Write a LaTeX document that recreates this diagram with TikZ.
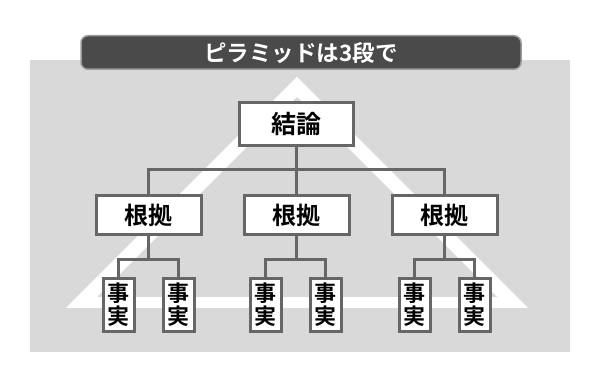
\documentclass[tikz,border=0pt]{standalone}
\usepackage{fontspec}
\setmainfont{Noto Sans CJK JP Bold}
\usetikzlibrary{shapes}
\definecolor{boxgray}{HTML}{666666}
\definecolor{bggray}{HTML}{D9D9D9}
\definecolor{titlegray}{HTML}{4A4A4A}
\definecolor{rimgray}{HTML}{9A9A9A}

\begin{document}
\begin{tikzpicture}[x=1pt, y=-1pt, node distance=91pt]
    % Define styles
    \tikzstyle{block} = [rectangle, draw=boxgray, fill=white, line width=3pt, inner sep=0pt, text centered, minimum width=105pt, minimum height=39pt, font=\fontsize{24}{24}\selectfont]
    \tikzstyle{fact} = [block, minimum width=31pt, minimum height=53pt, text width=31pt, font=\fontsize{22}{23}\selectfont]
    \tikzstyle{line} = [draw=boxgray, line width=3pt]

    % Background and pyramid
    \useasboundingbox (0,0) rectangle (600,379);
    \fill [white] (0,0) rectangle (600,379);
    \fill [bggray] (30,60) rectangle (570,352);
    \fill [white] (297,77) -- (66,308) -- (528,308) -- cycle;
    \fill [bggray] (297,97) -- (97,297) -- (497,297) -- cycle;

    % Title
    \node [draw=rimgray, line width=1.5pt, fill=titlegray, rounded corners=7pt, minimum width=440pt, minimum height=33.5pt, text=white, font=\fontsize{22.5}{22.5}\selectfont] (title) at (301,52.5) {ピラミッドは3段で};

    % Conclusion
    \node [block, minimum width=114pt, minimum height=43pt, font=\fontsize{25}{25}\selectfont] (concl) at (296.5,124) {結論};

    % Grounds
    \node [block, below of=concl] (ground2) {根拠};
    \node [block, left of=ground2, node distance=148pt] (ground1) {根拠};
    \node [block, right of=ground2, node distance=148pt] (ground3) {根拠};

    % Facts
    \node [fact, below of=ground1, node distance=90pt, xshift=-30pt] (fact1a) {事\\実};
    \node [fact, below of=ground1, node distance=90pt, xshift=30pt] (fact1b) {事\\実};
    \node [fact, below of=ground2, node distance=90pt, xshift=-31pt] (fact2a) {事\\実};
    \node [fact, below of=ground2, node distance=90pt, xshift=29pt] (fact2b) {事\\実};
    \node [fact, below of=ground3, node distance=90pt, xshift=-30pt] (fact3a) {事\\実};
    \node [fact, below of=ground3, node distance=90pt, xshift=30pt] (fact3b) {事\\実};

    % Split points
    \coordinate [below of=concl, node distance=46pt] (split0);
    \coordinate [below of=ground1, node distance=45pt] (split1);
    \coordinate [below of=ground2, node distance=45pt] (split2);
    \coordinate [below of=ground3, node distance=45pt] (split3);

    % Connect components
    \path [line] (concl) -- (split0);
    \path [line] (ground1.north) |- (split0) -| (ground3.north);
    \path [line] (split0) -- (ground2);

    \path [line] (ground1) -- (split1);
    \path [line] (fact1a.north) |- (split1) -| (fact1b.north);
    \path [line] (ground2) -- (split2);
    \path [line] (fact2a.north) |- (split2) -| (fact2b.north);
    \path [line] (ground3) -- (split3);
    \path [line] (fact3a.north) |- (split3) -| (fact3b.north);
\end{tikzpicture}
\end{document}
